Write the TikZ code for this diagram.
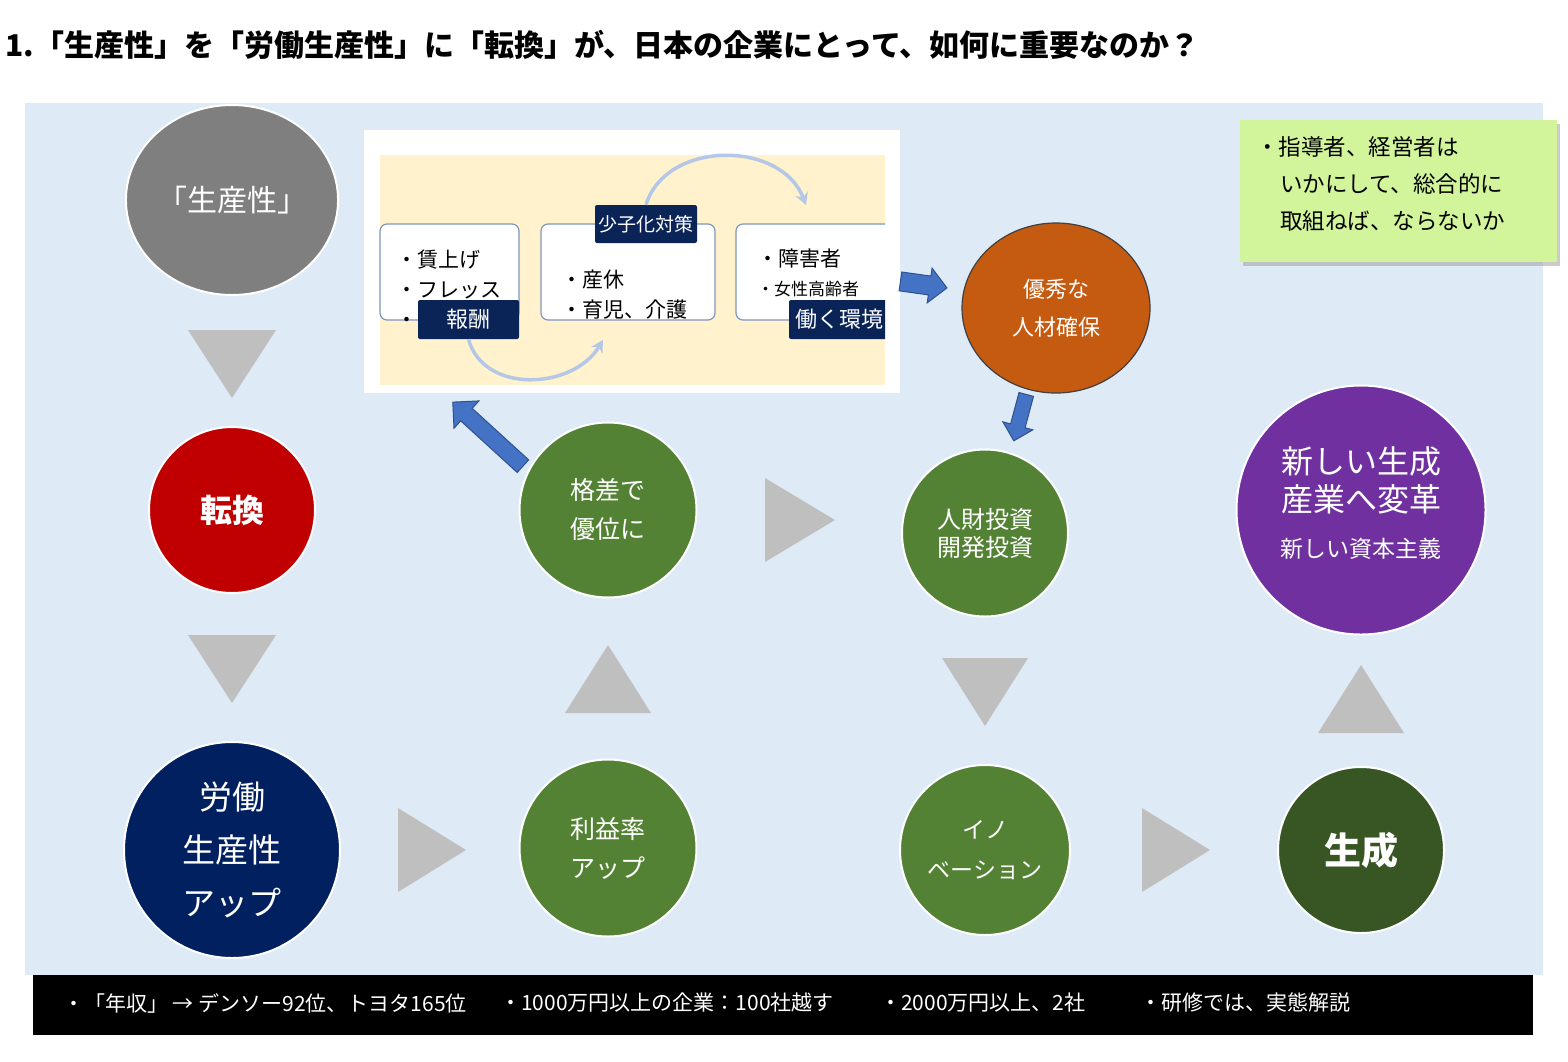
\documentclass[tikz,border=0pt]{standalone}
\usepackage{fontspec}
\setmainfont{Noto Sans CJK JP}
\usetikzlibrary{shapes.geometric,shapes.arrows,arrows.meta,shadows}
\definecolor{panelblue}{RGB}{222,234,246}
\definecolor{cgray}{RGB}{127,127,127}
\definecolor{cred}{RGB}{192,0,0}
\definecolor{cnavy}{RGB}{0,32,96}
\definecolor{cgreen}{RGB}{84,130,53}
\definecolor{cdgreen}{RGB}{55,86,35}
\definecolor{corange}{RGB}{197,90,17}
\definecolor{cpurple}{RGB}{112,48,160}
\definecolor{trigray}{RGB}{191,191,191}
\definecolor{arrowblue}{RGB}{68,114,196}
\definecolor{arrowedge}{RGB}{47,82,143}
\definecolor{curveblue}{RGB}{180,199,231}
\definecolor{boxline}{RGB}{127,150,190}
\definecolor{cream}{RGB}{255,242,204}
\definecolor{tagnavy}{RGB}{11,36,88}
\definecolor{lime}{RGB}{210,245,155}
\newcommand\fsz[2]{\fontsize{#1}{#2}\selectfont}

\begin{document}
\begin{tikzpicture}[x=1pt,y=-1pt, >=Stealth,
  bubble/.style={ellipse,draw=white,line width=2pt,text=white,align=center,inner sep=0pt},
  tri/.style={fill=trigray},
  plate/.style={draw=boxline,line width=1.2pt,rounded corners=7pt,fill=white,
    minimum width=#1,minimum height=96pt,inner sep=0pt},
  tag/.style={fill=tagnavy,rounded corners=2pt,text=white,inner sep=0pt,minimum height=39pt},
  bluearrow/.style={single arrow,fill=arrowblue,draw=arrowedge,line width=1pt,
    inner xsep=0pt,inner ysep=8pt,single arrow head extend=10pt},
  curvearr/.style={draw=curveblue,line width=3.5pt,-{Stealth[length=12pt,width=13pt]}}]
\useasboundingbox (0,0) rectangle (1568,1061);
\fill[white] (0,0) rectangle (1568,1061);

% title
\node[anchor=west,inner sep=0pt,font=\fsz{30}{34}\bfseries] (title) at (5,45) {1.「生産性」を「労働生産性」に「転換」が、日本の企業にとって、如何に重要なのか？};

% panel
\fill[panelblue] (25,103) rectangle (1543,975);

% triangles
\fill[tri] (188,330) -- (276,330) -- (232,398) -- cycle;
\fill[tri] (188,635) -- (276,635) -- (232,703) -- cycle;
\fill[tri] (398,808) -- (466,850) -- (398,892) -- cycle;
\fill[tri] (565,713) -- (651,713) -- (608,645) -- cycle;
\fill[tri] (765,478) -- (835,520) -- (765,562) -- cycle;
\fill[tri] (942,658) -- (1028,658) -- (985,726) -- cycle;
\fill[tri] (1142,808) -- (1210,850) -- (1142,892) -- cycle;
\fill[tri] (1318,733) -- (1404,733) -- (1361,665) -- cycle;

% circles
\node[bubble,fill=cgray,minimum width=208pt,minimum height=190pt,font=\fsz{30}{36}] (prod) at (232,200) {「生産性」};
\node[bubble,fill=cred,minimum size=166pt,font=\fsz{32}{38}\bfseries] (conv) at (232,510) {転換};
\node[bubble,fill=cnavy,minimum size=216pt,font=\fsz{33}{53}] (labor) at (232,850) {労働\\生産性\\アップ};
\node[bubble,fill=cgreen,minimum width=177pt,minimum height=175pt,font=\fsz{25}{39}] (gap) at (608,510) {格差で\\優位に};
\node[bubble,fill=cgreen,minimum width=177pt,minimum height=177pt,font=\fsz{25}{39}] (profit) at (608,848) {利益率\\アップ};
\node[bubble,fill=cgreen,minimum width=166pt,minimum height=167pt,font=\fsz{24}{28}] (invest) at (985,533) {人財投資\\開発投資};
\node[bubble,fill=cgreen,minimum width=170pt,minimum height=170pt,font=\fsz{23}{40}] (innov) at (985,850) {イノ\\ベーション};
\node[bubble,fill=corange,draw=black!75,line width=1.2pt,minimum width=188pt,minimum height=170pt,font=\fsz{22}{38}] (talent) at (1056,308) {優秀な\\人材確保};
\node[bubble,fill=cpurple,minimum size=249pt,font=\fsz{32}{38},text depth=15pt] (reform) at (1361,510) {新しい生成\\産業へ変革\\[8pt]{\fsz{23}{30}新しい資本主義}};
\node[bubble,fill=cdgreen,minimum size=166pt,font=\fsz{37}{44}\bfseries] (gen) at (1361,850) {生成};

% inset
\node[fill=white,minimum width=536pt,minimum height=263pt,inner sep=0pt] (frame) at (632,261.5) {};
\node[fill=cream,minimum width=505pt,minimum height=230pt,inner sep=0pt] (sheet) at (632.5,270) {};
\node[plate=139pt] (box1) at (449.5,272) {};
\node[plate=174pt] (box2) at (628,272) {};
\coordinate (end1) at (603,340);
\coordinate (end2) at (806,205);
\node[anchor=west,inner sep=0pt,align=left,font=\fsz{21}{30}] (txt1) at (396,289) {・賃上げ\\・フレッス\\・};
\node[anchor=west,inner sep=0pt,align=left,font=\fsz{21}{30}] (txt2) at (561,295) {・産休\\・育児、介護};
\begin{scope}
  \clip (380,155) rectangle (885,385);
  \node[plate=170pt] (box3) at (821,272) {};
  \node[anchor=west,inner sep=0pt,align=left,font=\fsz{21}{29}] (txt3) at (757,273) {・障害者\\{\fsz{17}{29}・女性高齢者}};
  \node[tag,minimum width=100pt,font=\fsz{22}{26}] (env) at (839,319.5) {働く環境};
\end{scope}
\node[tag,minimum width=101pt,font=\fsz{22}{26}] (pay) at (468.5,319.5) {報酬};
\node[tag,minimum width=102pt,minimum height=38pt,font=\fsz{19}{23}] (kids) at (646,224) {少子化対策};
\draw[curvearr] (pay.south) .. controls +(15,55) and +(-30,50) .. (end1);
\draw[curvearr] (kids.north) .. controls +(20,-65) and +(-25,-65) .. (end2);

% block arrows
\node[bluearrow,minimum height=95pt,rotate=137.6] (toinset) at (491,437) {};
\node[bluearrow,minimum height=47pt,inner ysep=9pt,single arrow head extend=8pt,rotate=-8] (totalent) at (919,284) {};
\node[bluearrow,minimum height=48pt,inner ysep=7pt,single arrow head extend=8pt,rotate=-105] (toinvest) at (1021,414) {};

% note
\node[fill=lime,drop shadow={shadow xshift=3pt,shadow yshift=-4pt,fill=black!40},
  minimum width=317pt,minimum height=142pt,inner sep=0pt] (note) at (1398.5,191) {};
\node[anchor=west,inner sep=0pt,align=left,font=\fsz{22.5}{37}] (notetxt) at (1256,184) {・指導者、経営者は\\\hspace*{24pt}いかにして、総合的に\\\hspace*{24pt}取組ねば、ならないか};

% bottom bar
\node[fill=black,minimum width=1500pt,minimum height=60pt,inner sep=0pt] (bar) at (783,1005) {};
\node[anchor=west,text=white,inner sep=0pt,font=\fsz{21}{24}] (fact1) at (63,1003) {・「年収」 → デンソー92位、トヨタ165位};
\node[anchor=west,text=white,inner sep=0pt,font=\fsz{21}{24}] (fact2) at (500,1003) {・1000万円以上の企業：100社越す};
\node[anchor=west,text=white,inner sep=0pt,font=\fsz{21}{24}] (fact3) at (880,1003) {・2000万円以上、2社};
\node[anchor=west,text=white,inner sep=0pt,font=\fsz{21}{24}] (fact4) at (1140,1003) {・研修では、実態解説};
\end{tikzpicture}
\end{document}
